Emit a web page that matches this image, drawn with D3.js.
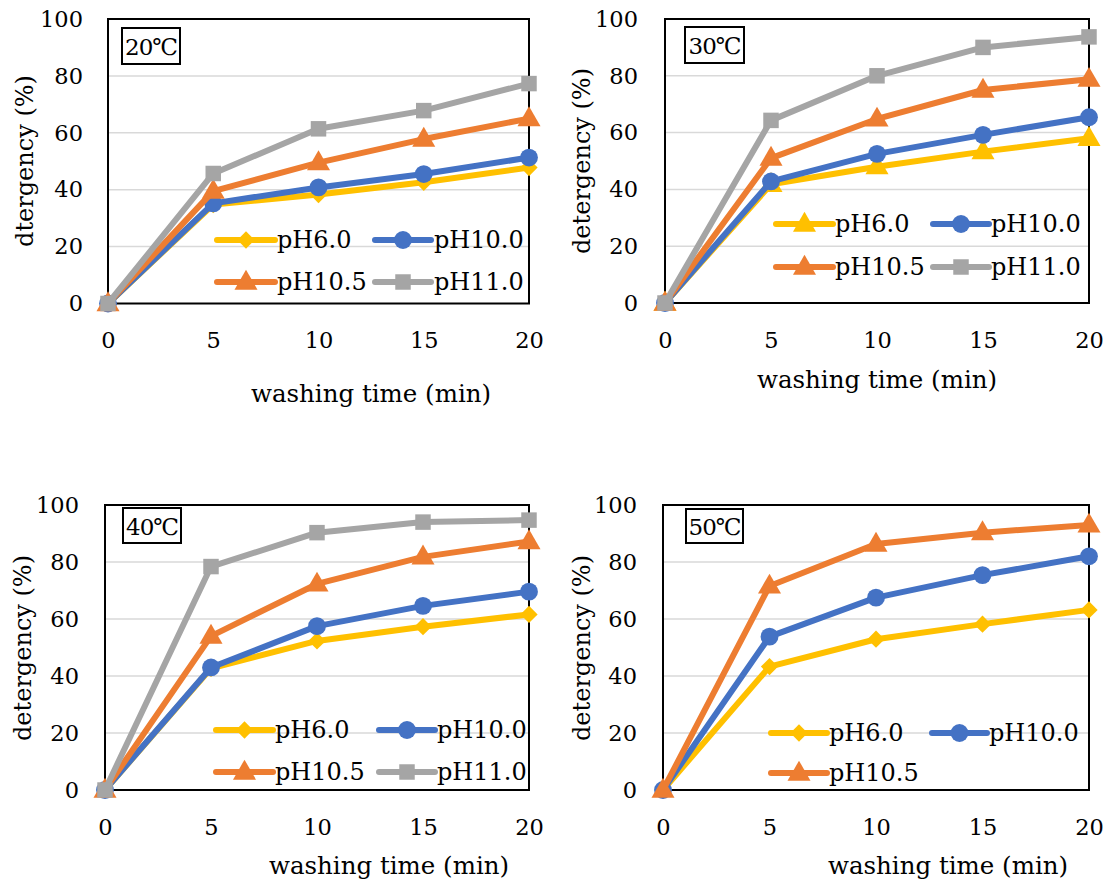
<!DOCTYPE html>
<html><head><meta charset="utf-8">
<script src="https://cdn.jsdelivr.net/npm/d3@7"></script>
<style>
body{margin:0;background:#fff;}
svg text{font-family:"DejaVu Serif",serif;fill:#000;}
</style></head>
<body>
<svg id="c" width="1108" height="887"></svg>
<script>
const times = [0, 5, 10, 15, 20];
const seriesNames = ["pH6.0", "pH10.0", "pH10.5", "pH11.0"];
const panelLabels = ["20℃", "30℃", "40℃", "50℃"];
const yTitles = ["dtergency (%)", "detergency (%)", "detergency (%)", "detergency (%)"];
const xTitle = "washing time (min)";
const yTicks = [0, 20, 40, 60, 80, 100];
const xTicks = [0, 5, 10, 15, 20];
// values per panel (20,30,40,50 ℃)
const pH6_0  = [[0, 34.8, 38.3, 42.6, 47.8], [0, 41.8, 48.0, 53.3, 58.0], [0, 42.7, 52.3, 57.3, 61.6], [0, 43.3, 52.9, 58.2, 63.2]];
const pH10_0 = [[0, 35.2, 40.8, 45.5, 51.3], [0, 42.8, 52.5, 59.2, 65.4], [0, 43.0, 57.5, 64.6, 69.6], [0, 53.8, 67.5, 75.4, 82.0]];
const pH10_5 = [[0, 39.5, 49.5, 57.8, 65.0], [0, 51.0, 64.8, 75.0, 78.8], [0, 54.0, 72.3, 81.8, 87.2], [0, 71.6, 86.3, 90.3, 93.0]];
const pH11_0 = [[0, 45.7, 61.4, 67.8, 77.3], [0, 64.3, 80.0, 90.0, 93.7], [0, 78.4, 90.3, 94.0, 94.7], null];

const colors = ["#FFC000", "#4472C4", "#ED7D31", "#A5A5A5"];
const markerTypes = [["diamond", "circle", "triangle", "square"], ["triangle", "circle", "triangle", "square"],
                     ["diamond", "circle", "triangle", "square"], ["diamond", "circle", "triangle", "square"]];
const allSeries = [pH6_0, pH10_0, pH10_5, pH11_0];

const layout = [
  {l:108, r:529, t:19, b:303.5, ylx:83, ytx:25, yty:161, xty:340, xtx:371, xtyy:393, tb:[122,28,58,36], rows:[240,282], c1:[217,275,277], c2:[375,431,434]},
  {l:665, r:1089, t:19, b:303, ylx:638, ytx:582, yty:161, xty:340, xtx:877, xtyy:379, tb:[685,27,59,36], rows:[224,267], c1:[776,833,835], c2:[933,989,991]},
  {l:105, r:529, t:505, b:790, ylx:79, ytx:23, yty:648, xty:827, xtx:389, xtyy:865, tb:[123,508,58,35], rows:[730,772], c1:[216,273,275], c2:[379,435,437]},
  {l:663, r:1089, t:505, b:790, ylx:637, ytx:582, yty:648, xty:827, xtx:948, xtyy:865, tb:[686,509,57,34], rows:[733,773], c1:[771,827,829], c2:[932,987,989]}
];

const svg = d3.select("#c");
const symMap = {diamond: d3.symbolDiamond2, circle: d3.symbolCircle, triangle: d3.symbolTriangle, square: d3.symbolSquare};
const symSize = {diamond: 190, circle: 250, triangle: 230, square: 240};

function marker(g, type, color, x, y){
  g.append("path").attr("d", d3.symbol().type(symMap[type]).size(symSize[type])())
    .attr("transform", `translate(${x},${y})` + (type==="triangle" ? " translate(0,1)" : ""))
    .attr("fill", color).attr("stroke", "none");
}

layout.forEach((L, p) => {
  const g = svg.append("g");
  const x = d3.scaleLinear().domain([0, 20]).range([L.l, L.r]);
  const y = d3.scaleLinear().domain([0, 100]).range([L.b, L.t]);

  // gridlines
  g.selectAll(".grid").data(yTicks.filter(v => v > 0 && v < 100)).enter().append("line")
    .attr("x1", L.l).attr("x2", L.r).attr("y1", d => y(d)).attr("y2", d => y(d))
    .attr("stroke", "#d9d9d9").attr("stroke-width", 1.5);

  // y axis labels
  const ya = g.append("g").attr("transform", `translate(${L.ylx},0)`)
    .call(d3.axisLeft(y).tickValues(yTicks).tickSize(0).tickPadding(0));
  ya.select(".domain").remove();
  ya.selectAll("text").style("font-family", "DejaVu Serif").style("font-size", "22.5px").attr("fill", "#000");

  // x axis labels
  const xa = g.append("g").attr("transform", `translate(0,${L.xty})`)
    .call(d3.axisBottom(x).tickValues(xTicks).tickSize(0).tickPadding(0));
  xa.select(".domain").remove();
  xa.selectAll("text").attr("dy", "0.35em").attr("y", 0).style("font-family", "DejaVu Serif").style("font-size", "22.5px").attr("fill", "#000");

  // plot frame
  g.append("rect").attr("x", L.l).attr("y", L.t).attr("width", L.r - L.l).attr("height", L.b - L.t)
    .attr("fill", "none").attr("stroke", "#000").attr("stroke-width", 2);

  // titles
  g.append("text").attr("transform", `translate(${L.ytx},${L.yty}) rotate(-90)`)
    .attr("text-anchor", "middle").attr("dy", "0.35em").style("font-size", "24px").text(yTitles[p]);
  g.append("text").attr("x", L.xtx).attr("y", L.xtyy).attr("text-anchor", "middle").attr("dy", "0.35em")
    .style("font-size", "24.5px").text(xTitle);

  // temperature label box
  g.append("rect").attr("x", L.tb[0]).attr("y", L.tb[1]).attr("width", L.tb[2]).attr("height", L.tb[3])
    .attr("fill", "#fff").attr("stroke", "#000").attr("stroke-width", 2);
  g.append("text").attr("x", L.tb[0] + L.tb[2] / 2).attr("y", L.tb[1] + L.tb[3] / 2 + 1).attr("text-anchor", "middle")
    .attr("dy", "0.35em").style("font-size", "23px").style("letter-spacing", "-1px").text(panelLabels[p]);

  // series
  const line = d3.line().x((d, i) => x(times[i])).y(d => y(d));
  allSeries.forEach((arr, s) => {
    if (!arr[p]) return;
    const vals = arr[p];
    g.append("path").attr("d", line(vals)).attr("fill", "none").attr("stroke", colors[s])
      .attr("stroke-width", 6).attr("stroke-linejoin", "round").attr("stroke-linecap", "round");
    vals.forEach((v, i) => marker(g, markerTypes[p][s], colors[s], x(times[i]), y(v)));
  });

  // legend
  seriesNames.forEach((name, s) => {
    if (!allSeries[s][p]) return;
    const row = L.rows[Math.floor(s / 2)];
    const c = s % 2 === 0 ? L.c1 : L.c2;
    g.append("line").attr("x1", c[0]).attr("x2", c[1]).attr("y1", row).attr("y2", row)
      .attr("stroke", colors[s]).attr("stroke-width", 6).attr("stroke-linecap", "round");
    marker(g, markerTypes[p][s], colors[s], (c[0] + c[1]) / 2, row);
    g.append("text").attr("x", c[2]).attr("y", row).attr("dy", "0.35em").style("font-size", "24px").text(name);
  });
});
</script>
</body></html>
